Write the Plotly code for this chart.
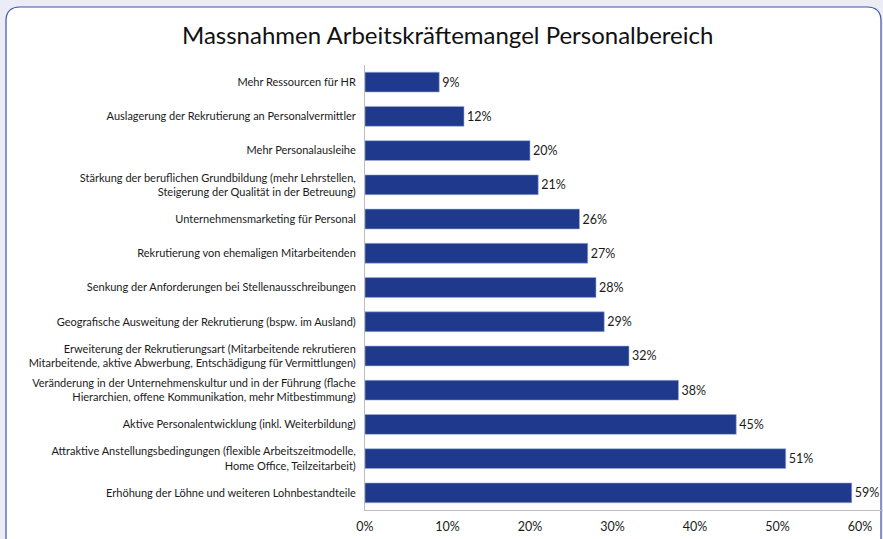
import plotly.graph_objects as go

categories = [
    "Mehr Ressourcen für HR",
    "Auslagerung der Rekrutierung an Personalvermittler",
    "Mehr Personalausleihe",
    "Stärkung der beruflichen Grundbildung (mehr Lehrstellen,<br>Steigerung der Qualität in der Betreuung)",
    "Unternehmensmarketing für Personal",
    "Rekrutierung von ehemaligen Mitarbeitenden",
    "Senkung der Anforderungen bei Stellenausschreibungen",
    "Geografische Ausweitung der Rekrutierung (bspw. im Ausland)",
    "Erweiterung der Rekrutierungsart (Mitarbeitende rekrutieren<br>Mitarbeitende, aktive Abwerbung, Entschädigung für Vermittlungen)",
    "Veränderung in der Unternehmenskultur und in der Führung (flache<br>Hierarchien, offene Kommunikation, mehr Mitbestimmung)",
    "Aktive Personalentwicklung (inkl. Weiterbildung)",
    "Attraktive Anstellungsbedingungen (flexible Arbeitszeitmodelle,<br>Home Office, Teilzeitarbeit)",
    "Erhöhung der Löhne und weiteren Lohnbestandteile",
]
values = [0.09, 0.12, 0.20, 0.21, 0.26, 0.27, 0.28, 0.29, 0.32, 0.38, 0.45, 0.51, 0.59]
tick_vals = [0, 0.1, 0.2, 0.3, 0.4, 0.5, 0.6]
tick_text = ["0%", "10%", "20%", "30%", "40%", "50%", "60%"]

W, H = 883, 539
ML, MR, MT, MB = 365, 0, 65, 29
PW, PH = W - ML - MR, H - MT - MB

def px(x):
    return (x - ML) / PW

def py(y):
    return (H - MB - y) / PH

# rounded frame in pixel coords
x0, x1, y0, y1, r = 6, 881, 7, 560, 14
pts = (
    f"M {px(x0 + r)},{py(y0)} L {px(x1 - r)},{py(y0)} "
    f"Q {px(x1)},{py(y0)} {px(x1)},{py(y0 + r)} "
    f"L {px(x1)},{py(y1 - r)} Q {px(x1)},{py(y1)} {px(x1 - r)},{py(y1)} "
    f"L {px(x0 + r)},{py(y1)} Q {px(x0)},{py(y1)} {px(x0)},{py(y1 - r)} "
    f"L {px(x0)},{py(y0 + r)} Q {px(x0)},{py(y0)} {px(x0 + r)},{py(y0)} Z"
)

fig = go.Figure(
    go.Bar(
        y=categories,
        x=values,
        orientation="h",
        marker=dict(color="#1f3a8c", line=dict(color="#9fb0dc", width=0.6)),
        width=0.58,
        text=[f"{round(v * 100)}%" for v in values],
        textposition="outside",
        textfont=dict(family="Lato", size=12.5, color="#1a1a1a"),
        cliponaxis=False,
        hoverinfo="skip",
    )
)

fig.update_layout(
    width=W,
    height=H,
    margin=dict(l=ML, r=MR, t=MT, b=MB, pad=0, autoexpand=False),
    paper_bgcolor="#ececf6",
    plot_bgcolor="rgba(0,0,0,0)",
    font=dict(family="Lato", color="#1a1a1a"),
    title=dict(
        text="Massnahmen Arbeitskräftemangel Personalbereich",
        x=0.507,
        xanchor="center",
        y=1 - 36 / H,
        yanchor="middle",
        font=dict(family="Lato", size=24, color="#111111"),
    ),
    showlegend=False,
    uniformtext=dict(minsize=12, mode="show"),
    shapes=[
        dict(
            type="path",
            xref="paper",
            yref="paper",
            path=pts,
            fillcolor="white",
            line=dict(color="#3d52a3", width=1.2),
            layer="below",
        )
    ],
)

fig.update_xaxes(
    range=[0, 0.6 * PW / 495],
    tickvals=tick_vals,
    ticktext=tick_text,
    tickfont=dict(family="Lato", size=12.5, color="#1a1a1a"),
    showgrid=False,
    zeroline=False,
    showline=True,
    linecolor="#bdbdbd",
    linewidth=1,
    ticks="",
    ticklabelstandoff=5,
    automargin=False,
)
fig.update_yaxes(
    categoryorder="array",
    categoryarray=categories,
    autorange="reversed",
    tickfont=dict(family="Lato", size=11, color="#1a1a1a"),
    showgrid=False,
    zeroline=False,
    showline=True,
    linecolor="#bdbdbd",
    linewidth=1,
    ticks="",
    ticklabelstandoff=6,
    automargin=False,
)

fig.write_html(
    "out.html",
    config={"displayModeBar": False},
    post_script="document.body.style.margin='0';document.body.style.overflow='hidden';",
)
